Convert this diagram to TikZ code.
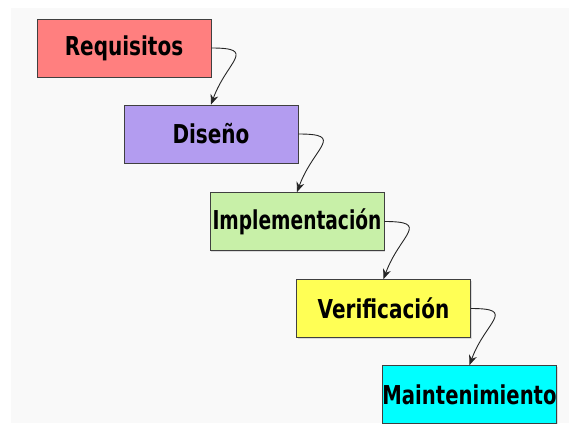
\documentclass[tikz,border=0pt]{standalone}
\usepackage{fontspec}
\newfontfamily\stagefont{DejaVu Sans}[FakeStretch=0.77]
\usetikzlibrary{arrows.meta,shadows}
\definecolor{bggray}{HTML}{F9F9F9}
\definecolor{reqred}{HTML}{FF7F7F}
\definecolor{dislila}{HTML}{B39CF0}
\definecolor{implgreen}{HTML}{C8F0A8}
\definecolor{veryellow}{HTML}{FFFF55}
\definecolor{maintcyan}{HTML}{00FFFF}
\tikzset{
	stage/.style={draw=black!75, line width=0.8pt, minimum width=174pt, minimum height=58pt, inner sep=0pt,
		font=\stagefont\bfseries\fontsize{26}{30}\selectfont,
		drop shadow={shadow xshift=1.2pt, shadow yshift=-1.2pt, opacity=0.25}},
	flow/.style={-{Stealth[length=10pt,width=8pt]}, line width=0.9pt, black!85}
}
\begin{document}
\begin{tikzpicture}[x=1pt,y=1pt]
		\useasboundingbox (0,0) rectangle (569,-423);
		\fill[bggray] (11,-8) rectangle (569,-423);
		%%%
		\node[stage, fill=reqred] (req) at (124,-48) {Requisitos};
		\node[stage, fill=dislila] (dis) at (211,-134) {Diseño};
		\node[stage, fill=implgreen] (impl) at (297,-221.5) {\scalebox{0.93}[1]{Implementación}};
		\node[stage, fill=veryellow] (ver) at (383.5,-308.5) {Verificación};
		\node[stage, fill=maintcyan] (maint) at (469.5,-394.5) {\scalebox{0.98}[1]{Maintenimiento}};
		%%%
		\draw[flow] (req.east) to[out=0,in=70,looseness=2.1] (dis.north);
		\draw[flow] (dis.east) to[out=0,in=70,looseness=2.1] (impl.north);
		\draw[flow] (impl.east) to[out=0,in=70,looseness=2.1] (ver.north);
		\draw[flow] (ver.east) to[out=0,in=70,looseness=2.1] (maint.north);
\end{tikzpicture}
\end{document}
